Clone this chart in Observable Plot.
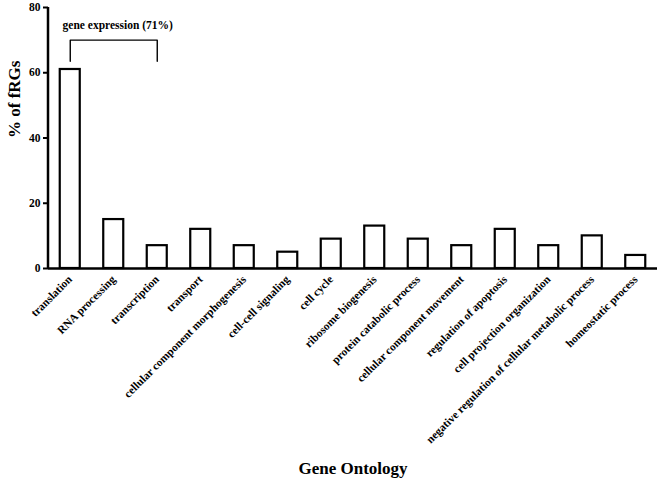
<!DOCTYPE html>
<html>
<head>
<meta charset="utf-8">
<script src="https://cdn.jsdelivr.net/npm/d3@7"></script>
<script src="https://cdn.jsdelivr.net/npm/@observablehq/plot@0.6"></script>
<style>
body { margin: 0; background: #fff; }
</style>
</head>
<body>
<div id="chart"></div>
<script>
const categories = ["translation", "RNA processing", "transcription", "transport", "cellular component morphogenesis", "cell-cell signaling", "cell cycle", "ribosome biogenesis", "protein catabolic process", "cellular component movement", "regulation of apoptosis", "cell projection organization", "negative regulation of cellular metabolic process", "homeostatic process"];
const values = [61, 15, 7, 12, 7, 5, 9, 13, 9, 7, 12, 7, 10, 4];
const yTicks = [0, 20, 40, 60, 80];
const yLabel = "% of fRGs";
const xLabel = "Gene Ontology";
const bracketText = "gene expression (71%)";
const bracketFrom = "translation";
const bracketTo = "transcription";
const bracketLow = 63.5;
const bracketHigh = 70;
const bracketLabelY = 74.5;

const data = categories.map((c, i) => ({category: c, value: values[i]}));
const bracket = [
  {x: bracketFrom, y: bracketLow},
  {x: bracketFrom, y: bracketHigh},
  {x: bracketTo, y: bracketHigh},
  {x: bracketTo, y: bracketLow}
];

const font = "'Liberation Serif', 'Times New Roman', serif";

// left axis line drawn along the frame edge
function leftAxisLine(index, scales, values, dim) {
  return d3.create("svg:line")
    .attr("x1", dim.marginLeft).attr("x2", dim.marginLeft)
    .attr("y1", scales.y(80)).attr("y2", scales.y(0) + 1)
    .attr("stroke", "black").attr("stroke-width", 2.5).node();
}

const chart = Plot.plot({
  width: 661,
  height: 481,
  marginLeft: 48,
  marginRight: 4,
  marginTop: 7,
  marginBottom: 213,
  style: {fontFamily: font, fontWeight: "bold", fontSize: "11px", color: "#000", background: "#fff"},
  x: {domain: categories, paddingInner: 0.54, paddingOuter: 0.27, round: false},
  y: {domain: [0, 80]},
  marks: [
    Plot.barY(data, {x: "category", y: "value", fill: "white", stroke: "black", strokeWidth: 2.2}),
    leftAxisLine,
    Plot.ruleY([0], {stroke: "black", strokeWidth: 2.5}),
    Plot.axisY({ticks: yTicks, tickSize: 5, tickPadding: 3, strokeWidth: 2, fontSize: 11.5, fontFamily: font, label: null}),
    Plot.axisX({tickSize: 0, tickRotate: -45, tickPadding: 9, fontSize: 11.3, fontFamily: font, label: null}),
    Plot.text([yLabel], {frameAnchor: "left", dx: -34, rotate: -90, fontSize: 17, fontFamily: font, fontWeight: "bold", text: d => d}),
    Plot.text([xLabel], {frameAnchor: "bottom", dy: 205, fontSize: 17, fontFamily: font, fontWeight: "bold", text: d => d}),
    Plot.line(bracket, {x: "x", y: "y", stroke: "black", strokeWidth: 1.4}),
    Plot.text([bracketText], {x: () => categories[1], y: () => bracketLabelY, dx: 4, text: d => d, fontSize: 11.5, fontFamily: font, fontWeight: "bold"})
  ]
});

document.getElementById("chart").appendChild(chart);
</script>
</body>
</html>
